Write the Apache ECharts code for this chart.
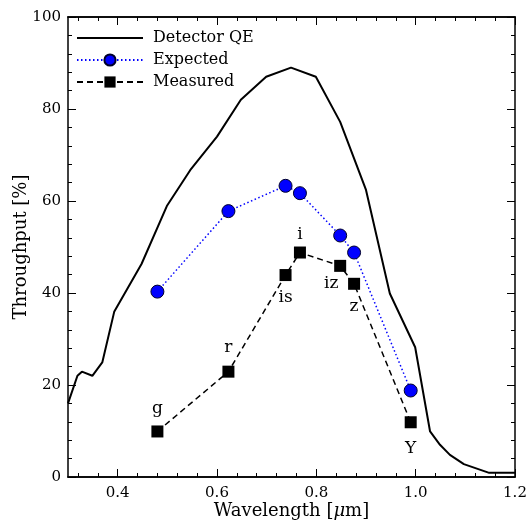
<!DOCTYPE html>
<html>
<head>
<meta charset="utf-8">
<script src="https://cdn.jsdelivr.net/npm/echarts@6/dist/echarts.min.js"></script>
<style>
  html, body { margin: 0; padding: 0; background: #fff; }
  #chart { width: 528px; height: 523px; }
</style>
</head>
<body>
<div id="chart"></div>
<script>
// detector QE curve
const qeWave = [0.300, 0.319, 0.328, 0.349, 0.369, 0.393, 0.448, 0.499, 0.546, 0.600, 0.648, 0.699,
                0.749, 0.799, 0.848, 0.900, 0.948, 0.999, 1.029, 1.049, 1.069, 1.097, 1.148, 1.200]
const qeVals = [16.0, 22.0, 22.9, 22.0, 24.9, 35.9, 46.3, 58.9, 66.7, 74.0, 82.0, 87.0,
                89.0, 87.0, 77.2, 62.4, 39.9, 28.2, 9.9, 7.0, 4.8, 2.8, 0.9, 0.9]

// filter bands
const bandNames = ['g', 'r', 'is', 'i', 'iz', 'z', 'Y']
const bandWave = [0.480, 0.623, 0.738, 0.767, 0.848, 0.876, 0.990]
const expectedVals = [40.3, 57.8, 63.3, 61.7, 52.5, 48.8, 18.8]
const measuredVals = [9.9, 22.9, 43.9, 48.8, 45.9, 42.0, 11.9]

// axis ticks
const xMajorTicks = [0.4, 0.6, 0.8, 1.0, 1.2]
const xMinorTicks = [0.32, 0.36, 0.44, 0.48, 0.52, 0.56, 0.64, 0.68, 0.72, 0.76,
                     0.84, 0.88, 0.92, 0.96, 1.04, 1.08, 1.12, 1.16]

const serif = 'DejaVu Serif'

// where each band label sits relative to its marker
const labelPlace = {
    g: {position: 'top', distance: 8},
    r: {position: 'top', distance: 10},
    is: {position: 'bottom', distance: 8},
    i: {position: 'top', distance: 3},
    iz: {position: 'bottom', distance: 3, offset: [-9, 0]},
    z: {position: 'bottom', distance: 8},
    Y: {position: 'bottom', distance: 12},
}

const chart = echarts.init(document.getElementById('chart'))

function xAxisDef(pos, ticks, len, withLabels) {
    return {
        type: 'value',
        position: pos,
        min: 0.3,
        max: 1.2,
        axisLine: {show: true, onZero: false, lineStyle: {color: '#000', width: 1.5}},
        axisTick: {show: true, inside: true, length: len, customValues: ticks,
            lineStyle: {color: '#000', width: 1}},
        axisLabel: withLabels ? {
            show: true, customValues: ticks, margin: 9,
            formatter: v => v.toFixed(1),
            fontFamily: serif, fontSize: 15, color: '#000'
        } : {show: false},
        splitLine: {show: false},
    }
}

function yAxisDef(pos, withLabels) {
    return {
        type: 'value',
        position: pos,
        min: 0,
        max: 100,
        interval: 20,
        axisLine: {show: true, onZero: false, lineStyle: {color: '#000', width: 1.5}},
        axisTick: {show: true, inside: true, length: 8, lineStyle: {color: '#000', width: 1}},
        minorTick: {show: true, splitNumber: 5, length: 4, lineStyle: {color: '#000', width: 1}},
        axisLabel: withLabels ? {
            show: true, margin: 7, fontFamily: serif, fontSize: 15, color: '#000'
        } : {show: false},
        splitLine: {show: false},
    }
}

const bottomMajor = xAxisDef('bottom', xMajorTicks, 8, true)
bottomMajor.name = 'Wavelength [{i|μ}m]'
bottomMajor.nameLocation = 'middle'
bottomMajor.nameGap = 25
bottomMajor.nameMoveOverlap = false
bottomMajor.nameTextStyle = {
    fontFamily: serif, fontSize: 18, color: '#000',
    rich: {i: {fontFamily: serif, fontSize: 18, fontStyle: 'italic', color: '#000'}}
}

const leftY = yAxisDef('left', true)
leftY.name = 'Throughput [%]'
leftY.nameLocation = 'middle'
leftY.nameRotate = 90
leftY.nameGap = 38
leftY.nameMoveOverlap = false
leftY.nameTextStyle = {fontFamily: serif, fontSize: 18, color: '#000'}

chart.setOption({
    animation: false,
    backgroundColor: '#fff',
    grid: {left: 68, right: 13, top: 17, bottom: 46, outerBoundsMode: 'none'},
    legend: {
        orient: 'vertical',
        left: 76,
        top: 30,
        padding: 0,
        itemWidth: 66,
        itemHeight: 14,
        itemGap: 6,
        textStyle: {fontFamily: serif, fontSize: 16, color: '#000', padding: [0, 0, 0, 5]},
        data: [
            {name: 'Detector QE', icon: 'path://M0,0 L66,0 L66,2 L0,2 Z'},
            'Expected',
            'Measured',
        ],
    },
    xAxis: [
        bottomMajor,
        xAxisDef('bottom', xMinorTicks, 4, false),
        xAxisDef('top', xMajorTicks, 8, false),
        xAxisDef('top', xMinorTicks, 4, false),
    ],
    yAxis: [leftY, yAxisDef('right', false)],
    series: [
        {
            name: 'Detector QE',
            type: 'line',
            xAxisIndex: 0,
            yAxisIndex: 0,
            symbol: 'none',
            color: '#000',
            lineStyle: {color: '#000', width: 2},
            data: qeWave.map((w, i) => [w, qeVals[i]]),
        },
        {
            name: 'Expected',
            type: 'line',
            xAxisIndex: 0,
            yAxisIndex: 0,
            symbol: 'circle',
            symbolSize: 13,
            color: '#0000ff',
            itemStyle: {color: '#0000ff', borderColor: '#00002a', borderWidth: 1},
            lineStyle: {color: '#0000ff', width: 1.5, type: [1.5, 2.5]},
            data: bandWave.map((w, i) => [w, expectedVals[i]]),
        },
        {
            name: 'Measured',
            type: 'line',
            xAxisIndex: 0,
            yAxisIndex: 0,
            symbol: 'rect',
            symbolSize: 12,
            color: '#000',
            itemStyle: {color: '#000'},
            lineStyle: {color: '#000', width: 1.5, type: [6, 4]},
            data: bandWave.map((w, i) => ({
                value: [w, measuredVals[i]],
                label: Object.assign({
                    show: true,
                    formatter: bandNames[i],
                    fontFamily: serif,
                    fontSize: 17,
                    color: '#000',
                }, labelPlace[bandNames[i]]),
            })),
        },
    ],
})
</script>
</body>
</html>
